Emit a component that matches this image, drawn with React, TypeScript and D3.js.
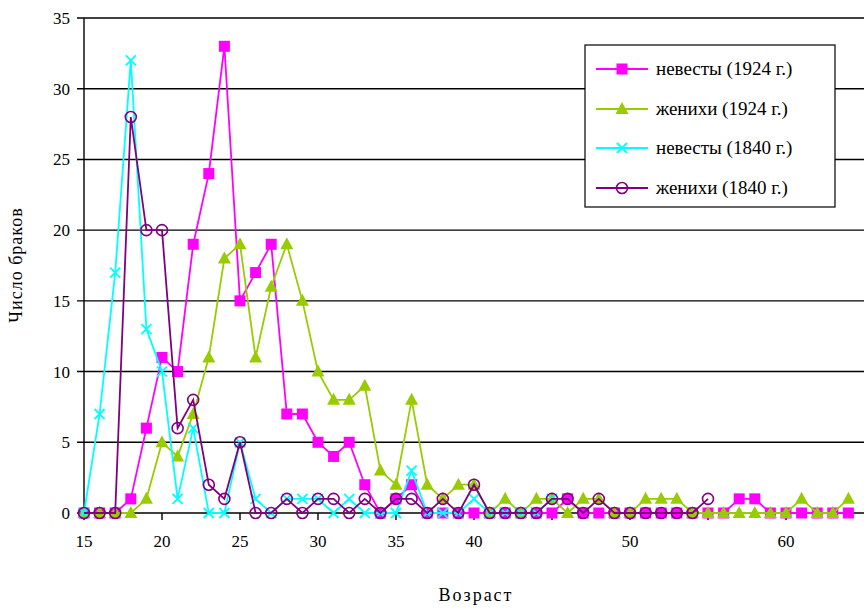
import React from "react";
import * as d3 from "d3";

const ages = d3.range(15, 65);
const bride1924 = [0,0,0,1,6,11,10,19,24,33,15,17,19,7,7,5,4,5,2,0,1,2,0,0,0,0,0,0,0,0,0,1,0,0,0,0,0,0,0,0,0,0,1,1,0,0,0,0,0,0];
const groom1924 = [0,0,0,0,1,5,4,7,11,18,19,11,16,19,15,10,8,8,9,3,2,8,2,1,2,2,0,1,0,1,1,0,1,1,0,0,1,1,1,0,0,0,0,0,0,0,1,0,0,1];
const bride1840 = [0,7,17,32,13,10,1,6,0,0,5,1,0,1,1,1,0,1,0,0,0,3,0,0,0,1,0,0,0,0,1];
const groom1840 = [0,0,0,28,20,20,6,8,2,1,5,0,0,1,0,1,1,0,1,0,1,1,0,1,0,2,0,0,0,0,1,1,0,1,0,0,0,0,0,0,1];
const seriesNames = ["невесты (1924 г.)", "женихи (1924 г.)", "невесты (1840 г.)", "женихи (1840 г.)"];
const yTicks = [0, 5, 10, 15, 20, 25, 30, 35];
const xTicks = [15, 20, 25, 30, 35, 40, 45, 50, 55, 60];
const xLabels = [15, 20, 25, 30, 35, 40, 50, 60];

const colors = ["#FF00FF", "#99CC00", "#00FFFF", "#800080"];
const font = "'Times New Roman', Times, 'Liberation Serif', 'DejaVu Serif', serif";

function Marker({ kind, x, y }: { kind: number; x: number; y: number }) {
  if (kind === 0) return <rect x={x - 5.5} y={y - 5.5} width={11} height={11} fill={colors[0]} />;
  if (kind === 1) {
    const p = `M${x},${y - 7}L${x + 6.5},${y + 5}L${x - 6.5},${y + 5}Z`;
    return <path d={p} fill={colors[1]} />;
  }
  if (kind === 2)
    return (
      <path d={`M${x - 5},${y - 5}L${x + 5},${y + 5}M${x - 5},${y + 5}L${x + 5},${y - 5}`} stroke={colors[2]} strokeWidth={1.8} fill="none" />
    );
  return <circle cx={x} cy={y} r={5.5} fill="none" stroke={colors[3]} strokeWidth={1.6} />;
}

export default function App() {
  const W = 864, H = 609;
  const x = d3.scaleLinear().domain([15, 65]).range([84, 864]);
  const y = d3.scaleLinear().domain([0, 35]).range([513, 18]);
  const all = [bride1924, groom1924, bride1840, groom1840];
  const line = d3.line<number>().x((_, i) => x(ages[i])).y((v) => y(v));

  const legX = 585, legY = 45, legW = 250, legH = 162;
  const rowY = [69, 109, 148, 188];
  const ts = { fontFamily: font };

  return (
    <svg width={W} height={H} style={{ position: "absolute", left: 0, top: 0, background: "#fff", fontFamily: font }}>
      {yTicks.map((t) => (
        <g key={t}>
          <line x1={77} x2={864} y1={y(t)} y2={y(t)} stroke="#000" strokeWidth={1.4} />
          <text x={70} y={y(t) + 6} textAnchor="end" fontSize={17} style={ts}>{t}</text>
        </g>
      ))}
      <line x1={84} x2={84} y1={y(35)} y2={y(0)} stroke="#000" strokeWidth={1.4} />
      {xTicks.map((t) => (
        <line key={t} x1={x(t)} x2={x(t)} y1={y(0)} y2={y(0) + 7} stroke="#000" strokeWidth={1.4} />
      ))}
      {xLabels.map((t) => (
        <text key={t} x={x(t)} y={547} textAnchor="middle" fontSize={17} style={ts}>{t}</text>
      ))}
      <text x={476} y={601} textAnchor="middle" fontSize={18} letterSpacing={2} style={ts}>Возраст</text>
      <text transform={`translate(22,${265}) rotate(-90)`} textAnchor="middle" fontSize={18} letterSpacing={1} style={ts}>Число браков</text>
      {all.map((s, k) => (
        <g key={k}>
          <path d={line(s) || ""} fill="none" stroke={colors[k]} strokeWidth={1.8} />
          {s.map((v, i) => (
            <Marker key={i} kind={k} x={x(ages[i])} y={y(v)} />
          ))}
        </g>
      ))}
      <rect x={legX} y={legY} width={legW} height={legH} fill="#fff" stroke="#000" strokeWidth={1.2} />
      {seriesNames.map((n, k) => (
        <g key={n}>
          <line x1={596} x2={648} y1={rowY[k]} y2={rowY[k]} stroke={colors[k]} strokeWidth={1.8} />
          <Marker kind={k} x={622} y={rowY[k]} />
          <text x={656} y={rowY[k] + 6} fontSize={19} style={ts}>{n}</text>
        </g>
      ))}
    </svg>
  );
}
